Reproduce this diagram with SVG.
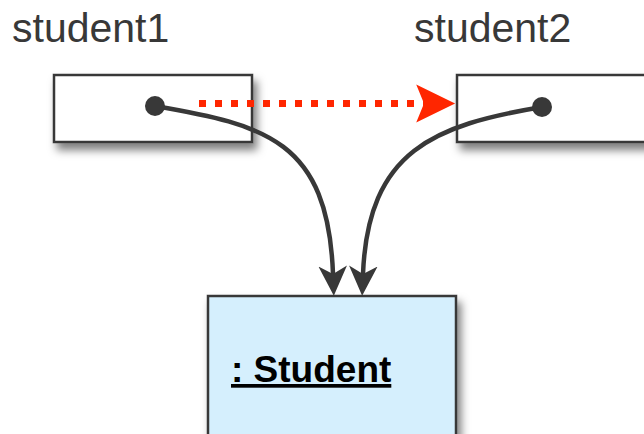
<svg xmlns="http://www.w3.org/2000/svg" width="644" height="434" viewBox="0 0 644 434">
  <style>
    .label { font-family: "Liberation Sans", Arial, sans-serif; font-size: 41px; fill: #383838; }
    .ref { fill: #ffffff; stroke: #383838; stroke-width: 2.5; }
    .obj { fill: #d5effd; stroke: #383838; stroke-width: 2.5; }
    .objname { font-family: "Liberation Sans", Arial, sans-serif; font-size: 37px; font-weight: bold; fill: #000000; text-decoration: underline; }
    .link { fill: none; stroke: #383838; stroke-width: 4.5; }
    .assign { fill: none; stroke: #ff2600; stroke-width: 7; stroke-dasharray: 7 9; }
    .dot { fill: #383838; }
  </style>
  <defs>
    <filter id="shadow" x="-20%" y="-30%" width="150%" height="180%">
      <feDropShadow dx="4" dy="7" stdDeviation="4.5" flood-color="#000000" flood-opacity="0.5"/>
    </filter>
    <marker id="head" markerUnits="userSpaceOnUse" markerWidth="32" markerHeight="32" viewBox="0 -14 28 28" refX="7" refY="0" orient="auto">
      <path d="M26,0 L0,-12.5 L7,0 L0,12.5 Z" fill="#383838"/>
    </marker>
    <marker id="redhead" markerUnits="userSpaceOnUse" markerWidth="40" markerHeight="40" viewBox="0 -18 36 36" refX="7" refY="0" orient="auto">
      <path d="M35,0 L0,-17 L7,0 L0,17 Z" fill="#ff2600"/>
    </marker>
  </defs>

  <g id="student1">
    <text class="label" x="12" y="42">student1</text>
    <rect class="ref" x="54" y="75" width="198" height="67" filter="url(#shadow)"/>
  </g>

  <g id="student2">
    <text class="label" x="414" y="42">student2</text>
    <rect class="ref" x="457" y="75" width="198" height="67" filter="url(#shadow)"/>
  </g>

  <g id="studentObject">
    <rect class="obj" x="208" y="296" width="248" height="160" filter="url(#shadow)"/>
    <text class="objname" x="231" y="382">: Student</text>
  </g>

  <g id="connectors">
    <line class="assign" x1="199" y1="103.5" x2="424" y2="103.5" marker-end="url(#redhead)"/>
    <path class="link" d="M155,106 C265,125 328,140 333,274" marker-end="url(#head)"/>
    <path class="link" d="M542,107 C435,125 368,150 363,274" marker-end="url(#head)"/>
    <circle class="dot" cx="155" cy="106" r="10"/>
    <circle class="dot" cx="542" cy="107" r="10"/>
  </g>
</svg>
